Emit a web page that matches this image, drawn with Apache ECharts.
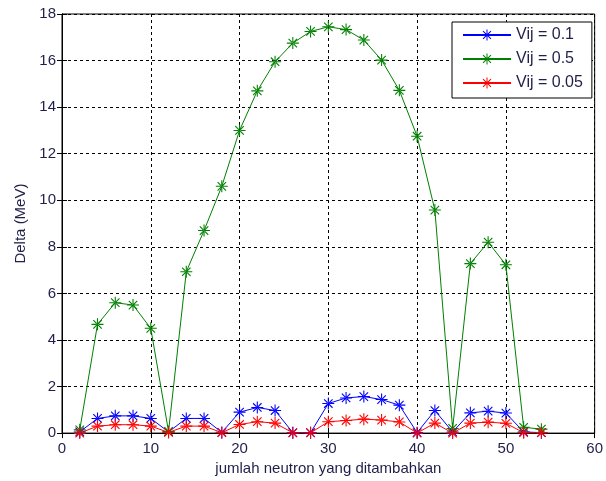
<!DOCTYPE html>
<html>
<head>
<meta charset="utf-8">
<script src="https://cdn.jsdelivr.net/npm/echarts@6/dist/echarts.min.js"></script>
<style>
  html, body { margin: 0; padding: 0; background: #fff; }
  #chart { width: 606px; height: 481px; }
</style>
</head>
<body>
<div id="chart"></div>
<script>
// jumlah neutron yang ditambahkan
var neutrons = [2, 4, 6, 8, 10, 12, 14, 16, 18, 20, 22, 24, 26, 28, 30, 32, 34, 36, 38, 40, 42, 44, 46, 48, 50, 52, 54];

var vij01 = [0.05, 0.63, 0.74, 0.74, 0.63, 0.05, 0.63, 0.63, 0.03, 0.9, 1.1, 0.97, 0.02, 0.02, 1.27,
  1.51, 1.57, 1.44, 1.2, 0.02, 0.97, 0.05, 0.87, 0.94, 0.86, 0.05, 0.02];
var vij05 = [0.14, 4.67, 5.6, 5.5, 4.5, 0.07, 6.93, 8.7, 10.6, 13.0, 14.7, 15.95, 16.75, 17.25, 17.45,
  17.33, 16.88, 16.02, 14.72, 12.75, 9.58, 0.2, 7.28, 8.2, 7.23, 0.25, 0.17];
var vij005 = [0.0, 0.3, 0.36, 0.36, 0.3, 0.03, 0.3, 0.3, 0.02, 0.37, 0.49, 0.43, 0.01, 0.01, 0.49,
  0.54, 0.6, 0.56, 0.48, 0.0, 0.43, 0.0, 0.43, 0.47, 0.42, 0.02, 0.02];

var seriesNames = ['Vij = 0.1', 'Vij = 0.5', 'Vij = 0.05'];
var seriesColors = ['#0000ff', '#008000', '#ff0000'];

// asterisk marker like matlab '*'
var star = 'path://M-1,-0.09L1,-0.09L1,0.09L-1,0.09Z' +
  'M-0.09,-1L0.09,-1L0.09,1L-0.09,1Z' +
  'M-0.77,-0.64L0.64,0.77L0.77,0.64L-0.64,-0.77Z' +
  'M0.77,-0.64L-0.64,0.77L-0.77,0.64L0.64,-0.77Z';

function pairs(ys) {
  return neutrons.map(function (x, i) { return [x, ys[i]]; });
}

function makeSeries(name, ys, color) {
  return {
    name: name,
    type: 'line',
    data: pairs(ys),
    symbol: star,
    symbolSize: 12,
    showSymbol: true,
    lineStyle: { color: color, width: 1 },
    itemStyle: { color: color },
    emphasis: { disabled: true },
    animation: false
  };
}

var chart = echarts.init(document.getElementById('chart'));

var font = 'Liberation Sans, Arial, sans-serif';
var txt = '#1f1f4a';
var gridLine = { show: true, lineStyle: { color: '#000', width: 1, type: [3, 3] } };

chart.setOption({
  animation: false,
  grid: { left: 62, right: 9, top: 14, bottom: 47, show: true, borderColor: '#000', borderWidth: 1 },
  legend: {
    orient: 'vertical',
    left: 452,
    top: 22,
    padding: [5, 9, 7, 10],
    itemWidth: 48,
    itemHeight: 14,
    itemGap: 8,
    backgroundColor: '#fff',
    borderColor: '#000',
    borderWidth: 1,
    borderRadius: 0,
    textStyle: { fontFamily: font, fontSize: 16, color: txt },
    data: seriesNames
  },
  xAxis: [{
    type: 'value',
    min: 0, max: 60, interval: 10,
    name: 'jumlah neutron yang ditambahkan',
    nameLocation: 'middle',
    nameGap: 27,
    nameTextStyle: { fontFamily: font, fontSize: 15, color: txt },
    axisLine: { show: true, onZero: false, lineStyle: { color: '#000' } },
    axisTick: { show: true, inside: true, length: 5, lineStyle: { color: '#000' } },
    axisLabel: { fontFamily: font, fontSize: 15, color: txt, margin: 8 },
    splitLine: gridLine
  }, {
    type: 'value', position: 'top',
    min: 0, max: 60, interval: 10,
    axisLine: { show: true, lineStyle: { color: '#000' } },
    axisTick: { show: true, inside: true, length: 5, lineStyle: { color: '#000' } },
    axisLabel: { show: false },
    splitLine: { show: false }
  }],
  yAxis: [{
    type: 'value',
    min: 0, max: 18, interval: 2,
    name: 'Delta (MeV)',
    nameLocation: 'middle',
    nameGap: 34,
    nameTextStyle: { fontFamily: font, fontSize: 15, color: txt },
    axisLine: { show: true, onZero: false, lineStyle: { color: '#000' } },
    axisTick: { show: true, inside: true, length: 5, lineStyle: { color: '#000' } },
    axisLabel: { fontFamily: font, fontSize: 15, color: txt, margin: 6 },
    splitLine: gridLine
  }, {
    type: 'value', position: 'right',
    min: 0, max: 18, interval: 2,
    axisLine: { show: true, lineStyle: { color: '#000' } },
    axisTick: { show: true, inside: true, length: 5, lineStyle: { color: '#000' } },
    axisLabel: { show: false },
    splitLine: { show: false }
  }],
  series: [
    makeSeries(seriesNames[0], vij01, seriesColors[0]),
    makeSeries(seriesNames[1], vij05, seriesColors[1]),
    makeSeries(seriesNames[2], vij005, seriesColors[2])
  ]
});
</script>
</body>
</html>
